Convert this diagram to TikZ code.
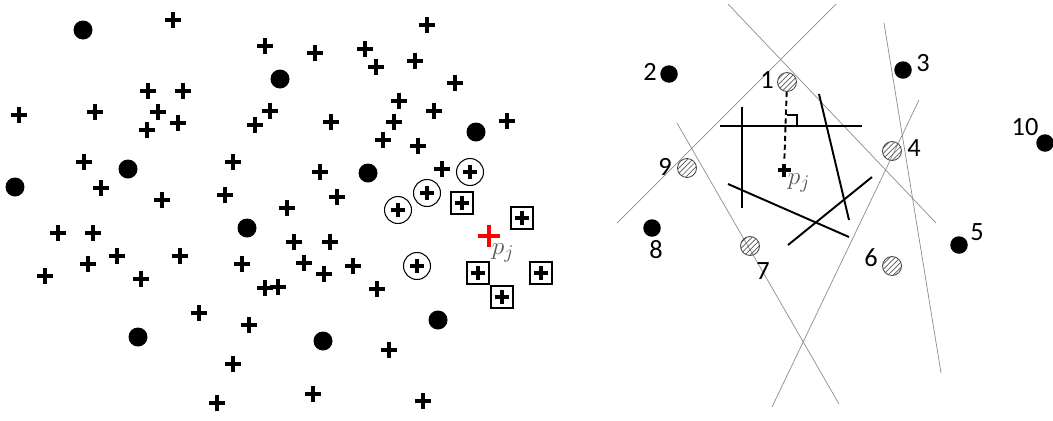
\documentclass[tikz,border=0pt]{standalone}
\usepackage{amsmath}
\usepackage{fontspec}
\newfontfamily\numfont{Carlito}
\usetikzlibrary{patterns}

\newcommand\crossmark[2][]{\draw[line width=0.07cm,#1]
  ([yshift=#2]path picture bounding box.center) -- ([yshift=-#2]path picture bounding box.center)
  ([xshift=-#2]path picture bounding box.center) -- ([xshift=#2]path picture bounding box.center);}

\begin{document}
\begin{tikzpicture}[x=0.02cm,y=-0.02cm,
  plus/.style={rectangle,inner sep=0pt,minimum size=0.36cm,path picture={\crossmark{0.165cm}}},
  redplus/.style={rectangle,inner sep=0pt,minimum size=0.48cm,path picture={\crossmark[red,line width=0.085cm]{0.22cm}}},
  smallplus/.style={rectangle,inner sep=0pt,minimum size=0.3cm,path picture={\crossmark[line width=0.075cm]{0.13cm}}},
  dot/.style={circle,fill=black,inner sep=0pt,minimum size=0.38cm},
  rdot/.style={circle,fill=black,inner sep=0pt,minimum size=0.35cm},
  cplus/.style={circle,draw,line width=0.6pt,inner sep=0pt,minimum size=0.54cm,path picture={\crossmark[line width=0.065cm]{0.145cm}}},
  bplus/.style={rectangle,draw,line width=0.6pt,inner sep=0pt,minimum size=0.44cm,path picture={\crossmark[line width=0.065cm]{0.145cm}}},
  hatch/.style={circle,draw=black!70,line width=0.5pt,inner sep=0pt,minimum size=0.38cm,pattern=north east lines,pattern color=black!65},
  num/.style={font=\numfont\fontsize{15}{17}\selectfont,inner sep=0pt},
  pjlabel/.style={text=black!65,inner sep=0pt,font=\fontsize{15}{18}\selectfont},
  bisector/.style={black!45,line width=0.4pt},
  seg/.style={black,line width=1.1pt}]
  \useasboundingbox (0,0) rectangle (1053,420);
  % left panel
  \node[plus] (c1) at (173,20) {};
  \node[plus] (c2) at (427,25) {};
  \node[plus] (c3) at (265,46) {};
  \node[plus] (c4) at (315,53) {};
  \node[plus] (c5) at (365,49) {};
  \node[plus] (c6) at (376,67) {};
  \node[plus] (c7) at (415,61) {};
  \node[plus] (c8) at (148,91) {};
  \node[plus] (c9) at (183,91) {};
  \node[plus] (c10) at (455,83) {};
  \node[plus] (c11) at (19,115) {};
  \node[plus] (c12) at (95,112) {};
  \node[plus] (c13) at (158,112) {};
  \node[plus] (c14) at (178,123) {};
  \node[plus] (c15) at (147,130) {};
  \node[plus] (c16) at (270,111) {};
  \node[plus] (c17) at (255,125) {};
  \node[plus] (c18) at (399,101) {};
  \node[plus] (c19) at (434,111) {};
  \node[plus] (c20) at (507,121) {};
  \node[plus] (c21) at (331,122) {};
  \node[plus] (c22) at (394,122) {};
  \node[plus] (c23) at (383,140) {};
  \node[plus] (c24) at (418,146) {};
  \node[plus] (c25) at (84,162) {};
  \node[plus] (c26) at (101,188) {};
  \node[plus] (c27) at (162,200) {};
  \node[plus] (c28) at (233,162) {};
  \node[plus] (c29) at (225,195) {};
  \node[plus] (c30) at (320,172) {};
  \node[plus] (c31) at (442,169) {};
  \node[plus] (c32) at (337,197) {};
  \node[plus] (c33) at (287,208) {};
  \node[plus] (c34) at (58,233) {};
  \node[plus] (c35) at (93,233) {};
  \node[plus] (c36) at (88,264) {};
  \node[plus] (c37) at (117,256) {};
  \node[plus] (c38) at (45,276) {};
  \node[plus] (c39) at (141,279) {};
  \node[plus] (c40) at (180,256) {};
  \node[plus] (c41) at (242,264) {};
  \node[plus] (c42) at (265,288) {};
  \node[plus] (c43) at (278,287) {};
  \node[plus] (c44) at (199,313) {};
  \node[plus] (c45) at (249,325) {};
  \node[plus] (c46) at (233,364) {};
  \node[plus] (c47) at (217,403) {};
  \node[plus] (c48) at (294,242) {};
  \node[plus] (c49) at (330,242) {};
  \node[plus] (c50) at (304,263) {};
  \node[plus] (c51) at (324,274) {};
  \node[plus] (c52) at (353,266) {};
  \node[plus] (c53) at (377,289) {};
  \node[plus] (c54) at (389,350) {};
  \node[plus] (c55) at (313,394) {};
  \node[plus] (c56) at (423,401) {};
  \node[dot] (d1) at (83,30) {};
  \node[dot] (d2) at (280,79) {};
  \node[dot] (d3) at (476,132) {};
  \node[dot] (d4) at (128,169) {};
  \node[dot] (d5) at (15,187) {};
  \node[dot] (d6) at (368,173) {};
  \node[dot] (d7) at (247,228) {};
  \node[dot] (d8) at (138,337) {};
  \node[dot] (d9) at (323,341) {};
  \node[dot] (d10) at (438,320) {};
  \node[cplus] (o1) at (470,172) {};
  \node[cplus] (o2) at (427,193) {};
  \node[cplus] (o3) at (398,210) {};
  \node[cplus] (o4) at (417,266) {};
  \node[bplus] (b1) at (462,203) {};
  \node[bplus] (b2) at (522,218) {};
  \node[bplus] (b3) at (478,273) {};
  \node[bplus] (b4) at (541,273) {};
  \node[bplus] (b5) at (502,297) {};
  \node[redplus] (q) at (489,236) {};
  \node[pjlabel] (ql) at (503,253) {$p_j$};
  % right panel
  \draw[bisector] (728,4) -- (936,223);
  \draw[bisector] (836,4) -- (617,223);
  \draw[bisector] (677,123) -- (839,404);
  \draw[bisector] (919,100) -- (772,407);
  \draw[bisector] (884,23) -- (941,373);
  \draw[seg] (720,126) -- (862,126);
  \draw[seg] (742,107) -- (742,208);
  \draw[seg] (819,94) -- (849,220);
  \draw[seg] (728,184) -- (849,237);
  \draw[seg] (788,245) -- (872,177);
  \node[hatch] (h1) at (787,82) {};
  \node[hatch] (h4) at (892,151) {};
  \node[hatch] (h6) at (892,266) {};
  \node[hatch] (h7) at (750,246) {};
  \node[hatch] (h9) at (687,168) {};
  \node[rdot] (k2) at (669,74) {};
  \node[rdot] (k3) at (903,70) {};
  \node[rdot] (k5) at (959,245) {};
  \node[rdot] (k8) at (652,228) {};
  \node[rdot] (k10) at (1045,143) {};
  \node[smallplus] (pj) at (784,170) {};
  \node[pjlabel] (pjl) at (799,183) {$p_j$};
  \draw[seg,dash pattern=on 3pt off 2pt] (h1) -- (pj);
  \draw[black,line width=0.8pt] (787,115) -- (797,115) -- (797,126);
  \node[num] (l1) at (767,80) {1};
  \node[num] (l2) at (650,72) {2};
  \node[num] (l3) at (923,63) {3};
  \node[num] (l4) at (914,148) {4};
  \node[num] (l5) at (977,232) {5};
  \node[num] (l6) at (871,258) {6};
  \node[num] (l7) at (763,271) {7};
  \node[num] (l8) at (656,250) {8};
  \node[num] (l9) at (665,167) {9};
  \node[num] (l10) at (1025,127) {10};
\end{tikzpicture}
\end{document}
